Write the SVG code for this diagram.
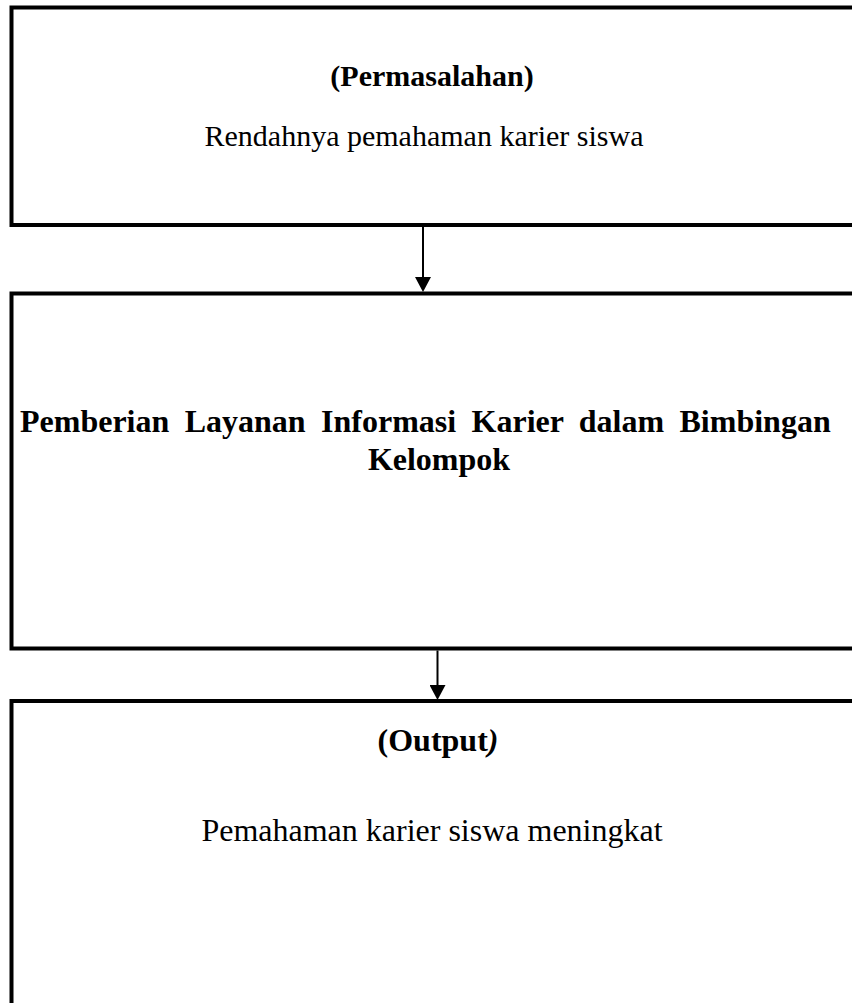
<svg xmlns="http://www.w3.org/2000/svg" width="852" height="1003" viewBox="0 0 852 1003">
  <style>
    .box { fill: #ffffff; stroke: #000000; stroke-width: 4; }
    .conn { stroke: #000000; stroke-width: 2; fill: none; }
    .t { font-family: "Liberation Serif", "Times New Roman", serif; font-size: 30px; fill: #000000; }
    .b { font-weight: bold; }
    .l { font-size: 32px; }
  </style>
  <defs>
    <marker id="arrow" viewBox="0 0 15 16" refX="0" refY="8" markerWidth="15" markerHeight="16" markerUnits="userSpaceOnUse" orient="auto">
      <path d="M0,0 L15,8 L0,16 z" fill="#000000"/>
    </marker>
  </defs>
  <rect width="852" height="1003" fill="#ffffff"/>

  <g id="node-permasalahan">
    <rect class="box" x="11.5" y="7.5" width="860" height="217.5"/>
    <text class="t b" x="432" y="86" text-anchor="middle">(Permasalahan)</text>
    <text class="t" x="424" y="146" text-anchor="middle">Rendahnya pemahaman karier siswa</text>
  </g>

  <g id="node-layanan">
    <rect class="box" x="11.5" y="293.5" width="860" height="355"/>
    <text class="t l b" x="20" y="432" word-spacing="7.4">Pemberian Layanan Informasi Karier dalam Bimbingan</text>
    <text class="t l b" x="439" y="470" text-anchor="middle">Kelompok</text>
  </g>

  <g id="node-output">
    <rect class="box" x="11.5" y="701" width="860" height="340"/>
    <text class="t l b" x="438" y="751" text-anchor="middle">(Output<tspan font-style="italic">)</tspan></text>
    <text class="t l" x="432" y="841" text-anchor="middle">Pemahaman karier siswa meningkat</text>
  </g>

  <g id="connectors">
    <path class="conn" d="M423,227 L423,277" marker-end="url(#arrow)"/>
    <path class="conn" d="M437.5,650.5 L437.5,685" marker-end="url(#arrow)"/>
  </g>
</svg>
